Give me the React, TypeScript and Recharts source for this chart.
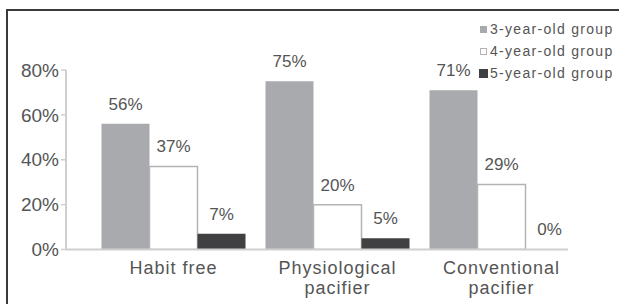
import React from 'react';
import {
  BarChart,
  Bar,
  XAxis,
  YAxis,
  LabelList
} from 'recharts';

// data
const categories = ['Habit free', 'Physiological\npacifier', 'Conventional\npacifier'];
const threeYear = [56, 75, 71];
const fourYear = [37, 20, 29];
const fiveYear = [7, 5, 0];
const yTicks = [0, 20, 40, 60, 80];

const seriesInfo = [
  { key: 'g3', name: '3-year-old group', fill: '#a9aaad', stroke: 'none', icon: 7 },
  { key: 'g4', name: '4-year-old group', fill: '#ffffff', stroke: '#b3b3b3', icon: 7 },
  { key: 'g5', name: '5-year-old group', fill: '#404042', stroke: 'none', icon: 9 }
];

const data = categories.map((c, i) => ({
  name: c,
  g3: threeYear[i],
  g4: fourYear[i],
  g5: fiveYear[i]
}));

const FONT = '"Liberation Sans", Arial, sans-serif';
const TEXT = '#555555';
const AXIS = '#cfcfcf';

const CategoryTick = (props: any) => {
  const { x, y, payload } = props;
  const lines = String(payload.value).split('\n');
  return (
    <g>
      {lines.map((line: string, i: number) => (
        <text
          key={i}
          x={x}
          y={y + 24 + i * 20.5}
          textAnchor="middle"
          fontFamily={FONT}
          fontSize={18}
          letterSpacing={1}
          fill={TEXT}
        >
          {line}
        </text>
      ))}
    </g>
  );
};

// value label above each bar
const ValueLabel = (props: any) => {
  const { x, y, width, value } = props;
  if (value === undefined || value === null) return null;
  return (
    <text
      x={Number(x) + Number(width) / 2}
      y={Number(y) - 14}
      textAnchor="middle"
      fontFamily={FONT}
      fontSize={17}
      fill={TEXT}
    >
      {`${value}%`}
    </text>
  );
};

// legend sits in the top-right corner, outside the plot
const LegendBox = () => (
  <div
    style={{
      position: 'absolute',
      left: 478,
      top: 18,
      fontFamily: FONT,
      fontSize: 14,
      letterSpacing: 1.3,
      color: TEXT
    }}
  >
    {seriesInfo.map((s) => (
      <div key={s.key} style={{ display: 'flex', alignItems: 'center', height: 22 }}>
        <span style={{ width: 10, display: 'flex', justifyContent: 'center' }}>
          <span
            style={{
              display: 'inline-block',
              width: s.icon,
              height: s.icon,
              boxSizing: 'border-box',
              background: s.fill,
              border: s.stroke === 'none' ? 'none' : `1px solid ${s.stroke}`
            }}
          />
        </span>
        <span style={{ marginLeft: 2, whiteSpace: 'nowrap' }}>{s.name}</span>
      </div>
    ))}
  </div>
);

export default function App() {
  return (
    <div
      style={{
        position: 'fixed',
        left: 0,
        top: 0,
        width: 619,
        height: 304,
        background: '#ffffff',
        overflow: 'hidden'
      }}
    >
      {/* frame of the original figure, cropped on right and bottom */}
      <div
        style={{
          position: 'absolute',
          left: 6,
          top: 9,
          width: 640,
          height: 320,
          borderTop: '2px solid #3a3a3a',
          borderLeft: '2px solid #3a3a3a'
        }}
      />
      <div style={{ position: 'absolute', left: 0, top: 0 }}>
        <BarChart
          width={619}
          height={304}
          data={data}
          margin={{ top: 70, right: 51, bottom: 0, left: 8 }}
          barCategoryGap={10}
          barGap={0}
        >
          <XAxis
            dataKey="name"
            axisLine={{ stroke: AXIS, strokeWidth: 2 }}
            tickLine={false}
            tickSize={0}
            tickMargin={0}
            height={54.5}
            padding={{ left: 25.5, right: -15.5 }}
            interval={0}
            tick={<CategoryTick />}
          />
          <YAxis
            width={58}
            domain={[0, 80]}
            ticks={yTicks}
            allowDataOverflow
            axisLine={{ stroke: AXIS, strokeWidth: 2 }}
            tickLine={{ stroke: AXIS, strokeWidth: 1.5 }}
            tickSize={5}
            tickMargin={2}
            tick={{ fill: TEXT, fontSize: 19, fontFamily: FONT }}
            tickFormatter={(v: number) => `${v}%`}
          />
          {seriesInfo.map((s) => (
            <Bar
              key={s.key}
              dataKey={s.key}
              name={s.name}
              fill={s.fill}
              stroke={s.stroke}
              strokeWidth={s.stroke === 'none' ? 0 : 1.5}
              minPointSize={0.01}
              isAnimationActive={false}
            >
              <LabelList dataKey={s.key} content={<ValueLabel />} />
            </Bar>
          ))}
        </BarChart>
      </div>
      <LegendBox />
    </div>
  );
}
